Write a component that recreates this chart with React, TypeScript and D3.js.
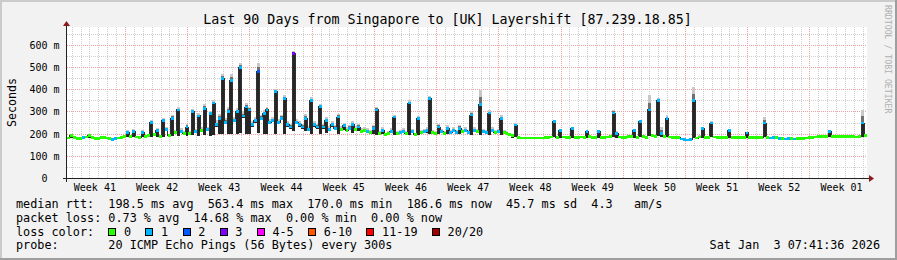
import React from "react";
import * as d3 from "d3";

// ---------- chart data ----------
const title = "Last 90 Days from Singapore to [UK] Layershift [87.239.18.85]";
const rangeStart = Date.UTC(2025, 9, 6, 11, 24);
const rangeEnd = Date.UTC(2026, 0, 4, 11, 24);
const sampleHours = 8;

const weekLabels = ["Week 41", "Week 42", "Week 43", "Week 44", "Week 45", "Week 46", "Week 47", "Week 48", "Week 49", "Week 50", "Week 51", "Week 52", "Week 01"];
const weekStarts = ["2025-10-06", "2025-10-13", "2025-10-20", "2025-10-27", "2025-11-03", "2025-11-10", "2025-11-17", "2025-11-24", "2025-12-01", "2025-12-08", "2025-12-15", "2025-12-22", "2025-12-29"];

const yMax = 681;
const yMajorTicks = [0, 100, 200, 300, 400, 500, 600];
const yMinorTicks = [50, 150, 250, 350, 450, 550, 650];
const yTickLabels = ["0  ", "100 m", "200 m", "300 m", "400 m", "500 m", "600 m"];

const lossBuckets = ["0", "1", "2", "3", "4-5", "6-10", "11-19", "20/20"];
const lossColors = ["#26ff00", "#00b8ff", "#0059ff", "#7e00ff", "#ff00ff", "#ff5500", "#ff0000", "#a10000"];

// median rtt in ms, one value every 8 hours
const median = [
  180, 190, 182, 178, 179, 181, 185, 193, 183, 179,
  178, 181, 183, 180, 177, 174, 178, 180, 183, 186,
  205, 188, 210, 185, 183, 207, 186, 190, 252, 195,
  215, 188, 261, 218, 190, 270, 205, 307, 210, 200,
  230, 200, 300, 210, 280, 215, 315, 220, 290, 338,
  240, 270, 450, 250, 300, 440, 260, 300, 497, 280,
  320, 307, 240, 260, 480, 270, 290, 307, 250, 260,
  389, 250, 270, 360, 240, 230, 563, 250, 240, 230,
  270, 220, 351, 240, 230, 321, 230, 260, 220, 240,
  225, 275, 220, 235, 215, 225, 240, 220, 230, 210,
  215, 210, 205, 225, 307, 200, 215, 195, 200, 210,
  275, 200, 205, 210, 200, 338, 210, 195, 270, 205,
  210, 215, 360, 205, 200, 230, 210, 200, 225, 205,
  215, 205, 225, 210, 215, 205, 284, 215, 210, 330,
  210, 205, 293, 215, 205, 210, 270, 205, 200, 195,
  190, 239, 182, 180, 180, 180, 180, 180, 180, 180,
  180, 182, 181, 185, 254, 183, 216, 185, 182, 184,
  225, 183, 181, 185, 182, 209, 186, 183, 182, 209,
  184, 182, 185, 186, 293, 200, 185, 182, 184, 186,
  186, 216, 184, 254, 186, 183, 307, 190, 188, 351,
  200, 186, 270, 185, 183, 182, 181, 176, 172, 171,
  173, 351, 180, 185, 225, 184, 183, 248, 185, 183,
  182, 181, 183, 216, 184, 182, 181, 183, 182, 203,
  183, 182, 181, 184, 183, 248, 182, 180, 181, 182,
  178, 177, 176, 178, 177, 176, 178, 177, 179, 180,
  181, 184, 185, 186, 186, 186, 187, 209, 186, 186,
  187, 186, 187, 188, 187, 186, 185, 186, 248, 190,
];

// lowest ping (smoke bottom), ms
const smokeLo = [
  178, 181, 180, 176, 177, 179, 180, 182, 181, 177,
  176, 179, 180, 178, 175, 172, 175, 178, 180, 182,
  184, 183, 185, 180, 179, 184, 181, 184, 186, 188,
  186, 182, 186, 210, 184, 188, 198, 190, 203, 193,
  188, 194, 192, 203, 190, 208, 192, 212, 190, 195,
  232, 200, 200, 242, 200, 200, 252, 200, 205, 270,
  200, 200, 232, 250, 205, 260, 200, 200, 242, 252,
  200, 242, 260, 200, 232, 222, 210, 242, 232, 222,
  210, 212, 200, 232, 222, 200, 222, 205, 212, 232,
  217, 200, 212, 215, 207, 217, 205, 212, 210, 203,
  207, 203, 198, 200, 195, 193, 200, 188, 193, 202,
  195, 193, 198, 203, 193, 195, 203, 188, 195, 198,
  203, 205, 198, 198, 193, 200, 203, 193, 200, 198,
  207, 198, 200, 203, 207, 198, 192, 207, 203, 195,
  203, 198, 192, 207, 198, 203, 195, 198, 193, 188,
  182, 186, 180, 178, 178, 178, 178, 178, 178, 178,
  178, 180, 179, 181, 184, 180, 182, 181, 180, 181,
  182, 181, 179, 181, 180, 182, 182, 181, 180, 182,
  181, 180, 182, 182, 186, 182, 182, 180, 181, 182,
  182, 182, 181, 184, 182, 180, 188, 183, 183, 190,
  184, 182, 185, 181, 180, 179, 178, 172, 169, 168,
  170, 182, 177, 181, 182, 181, 180, 183, 181, 180,
  179, 178, 180, 182, 181, 179, 178, 180, 179, 181,
  180, 179, 178, 181, 180, 184, 179, 177, 178, 179,
  175, 174, 173, 175, 174, 173, 175, 174, 176, 177,
  178, 181, 182, 183, 183, 183, 184, 184, 183, 183,
  184, 183, 184, 185, 184, 183, 182, 183, 186, 186,
];

// highest ping (smoke top), ms
const smokeHi = [
  183, 194, 185, 181, 182, 184, 188, 197, 186, 182,
  181, 184, 186, 183, 180, 177, 181, 183, 187, 192,
  215, 195, 220, 190, 188, 215, 192, 197, 262, 205,
  226, 196, 272, 230, 198, 285, 215, 318, 224, 210,
  245, 212, 312, 222, 292, 228, 332, 232, 304, 350,
  260, 290, 470, 270, 320, 470, 275, 315, 520, 300,
  340, 320, 255, 275, 520, 285, 305, 320, 265, 275,
  400, 265, 285, 375, 255, 245, 575, 265, 255, 245,
  290, 235, 365, 255, 245, 335, 245, 275, 235, 255,
  240, 290, 235, 250, 228, 240, 255, 235, 245, 225,
  230, 225, 218, 240, 321, 212, 230, 205, 212, 225,
  285, 212, 218, 225, 212, 351, 222, 205, 280, 218,
  222, 228, 370, 218, 212, 245, 222, 212, 238, 218,
  228, 218, 240, 222, 228, 218, 300, 228, 222, 397,
  222, 218, 305, 228, 218, 222, 282, 215, 210, 205,
  198, 248, 185, 182, 182, 182, 182, 182, 182, 182,
  183, 185, 184, 189, 262, 187, 222, 189, 186, 188,
  232, 187, 184, 189, 186, 215, 190, 187, 186, 215,
  188, 186, 189, 190, 307, 210, 189, 186, 188, 190,
  190, 222, 188, 262, 192, 187, 374, 200, 196, 362,
  230, 190, 282, 189, 187, 186, 185, 180, 177, 176,
  178, 411, 185, 195, 230, 188, 187, 258, 190, 187,
  186, 185, 187, 222, 188, 186, 185, 187, 186, 208,
  187, 186, 185, 188, 187, 277, 186, 184, 185, 186,
  182, 181, 180, 182, 181, 180, 182, 181, 183, 184,
  185, 188, 189, 190, 190, 190, 191, 214, 190, 190,
  191, 190, 191, 192, 191, 190, 189, 190, 307, 196,
];

// lost pings out of 20
const lossCount = [
  0, 0, 0, 0, 0, 1, 0, 0, 0, 0,
  0, 0, 0, 0, 0, 1, 1, 0, 0, 0,
  1, 0, 1, 0, 0, 1, 0, 0, 1, 0,
  1, 0, 1, 1, 0, 1, 0, 1, 1, 0,
  1, 0, 1, 1, 1, 0, 1, 1, 1, 1,
  1, 1, 1, 1, 1, 1, 1, 1, 1, 1,
  1, 1, 1, 1, 2, 1, 1, 1, 1, 1,
  1, 1, 1, 1, 1, 1, 3, 1, 1, 1,
  1, 1, 1, 1, 1, 1, 1, 1, 1, 1,
  1, 1, 0, 1, 0, 1, 1, 0, 1, 0,
  0, 1, 0, 1, 1, 0, 1, 0, 0, 1,
  1, 0, 1, 1, 0, 1, 1, 0, 1, 0,
  1, 1, 1, 0, 0, 1, 1, 0, 1, 1,
  1, 1, 1, 0, 1, 1, 1, 1, 0, 1,
  1, 1, 1, 1, 0, 1, 1, 0, 0, 0,
  0, 1, 0, 0, 0, 0, 0, 0, 0, 0,
  0, 0, 0, 0, 1, 0, 1, 0, 0, 0,
  1, 0, 0, 0, 0, 1, 0, 0, 0, 1,
  0, 0, 0, 0, 1, 1, 0, 0, 0, 0,
  0, 1, 0, 1, 0, 0, 1, 0, 0, 1,
  1, 0, 1, 0, 0, 0, 0, 1, 1, 1,
  1, 1, 0, 0, 1, 0, 0, 1, 0, 0,
  0, 0, 0, 1, 0, 0, 0, 0, 0, 1,
  0, 0, 0, 0, 0, 1, 0, 1, 1, 0,
  1, 0, 1, 1, 0, 1, 0, 0, 0, 0,
  0, 0, 0, 0, 0, 0, 0, 1, 0, 0,
  0, 0, 0, 0, 0, 0, 0, 0, 1, 0,
];

const legendMedian = "median rtt:  198.5 ms avg  563.4 ms max  170.0 ms min  186.6 ms now  45.7 ms sd  4.3   am/s";
const legendLoss = "packet loss: 0.73 % avg  14.68 % max  0.00 % min  0.00 % now";
const legendColorLabel = "loss color:";
const legendProbe = "probe:       20 ICMP Echo Pings (56 Bytes) every 300s";
const stampText = "Sat Jan  3 07:41:36 2026";
const yAxisTitle = "Seconds";
const watermark = "RRDTOOL / TOBI OETIKER";

// ---------- component ----------
const W = 897;
const H = 260;
const PL = 67, PR = 867, PT = 27, PB = 178;
const MONO = "'DejaVu Sans Mono', monospace";
const CHAR_W = 7.1;

function bucketOf(n: number): number {
  if (n <= 3) return n;
  if (n <= 5) return 4;
  if (n <= 10) return 5;
  if (n <= 19) return 6;
  return 7;
}

export default function App() {
  const x = d3.scaleUtc().domain([new Date(rangeStart), new Date(rangeEnd)]).range([PL, PR]);
  const y = d3.scaleLinear().domain([0, yMax]).range([PB, PT]);
  const tAt = (i: number) => new Date(rangeStart + i * sampleHours * 3600 * 1000);

  const days = d3.utcDay.range(new Date(rangeStart), new Date(rangeEnd));
  const weeks = d3.utcMonday.range(new Date(rangeStart), new Date(rangeEnd));

  const medLine = d3
    .line<number>()
    .x((_, i) => x(tAt(i)))
    .y((d) => y(d))
    .curve(d3.curveStepAfter)([...median, median[median.length - 1]]);

  // legend box positions: fixed entry overhead plus label width
  const boxXs: number[] = [];
  let bx = 108.3;
  lossBuckets.forEach((b) => {
    boxXs.push(bx);
    bx += 30.0 + b.length * CHAR_W;
  });

  return (
    <div style={{ position: "absolute", left: 0, top: 0 }}>
      <svg width={W} height={H} style={{ display: "block" }} fontFamily={MONO}>
        <rect x={0} y={0} width={W} height={H} fill="#f2f2f2" />
        {/* 3D frame */}
        <rect x={0} y={0} width={W} height={2} fill="#cbcbcb" />
        <rect x={0} y={0} width={2} height={H} fill="#cbcbcb" />
        <rect x={0} y={H - 2} width={W} height={2} fill="#9e9e9e" />
        <rect x={W - 2} y={0} width={2} height={H} fill="#9e9e9e" />

        {/* canvas */}
        <rect x={PL} y={PT} width={PR - PL} height={PB - PT} fill="#ffffff" />

        {/* minor grid */}
        <g stroke="#cfcfcf" strokeWidth={1} strokeDasharray="1,1" shapeRendering="crispEdges">
          {days.map((d, i) => (
            <line key={"vd" + i} x1={Math.round(x(d)) + 0.5} x2={Math.round(x(d)) + 0.5} y1={PT} y2={PB} />
          ))}
          {yMinorTicks.map((v) => (
            <line key={"hm" + v} x1={PL} x2={PR} y1={Math.round(y(v)) + 0.5} y2={Math.round(y(v)) + 0.5} />
          ))}
        </g>
        {/* major grid */}
        <g stroke="#efa0a0" strokeWidth={1} strokeDasharray="1,1" shapeRendering="crispEdges">
          {weeks.map((d, i) => (
            <line key={"vw" + i} x1={Math.round(x(d)) + 0.5} x2={Math.round(x(d)) + 0.5} y1={PT} y2={PB} />
          ))}
          {yMajorTicks.filter((v) => v > 0).map((v) => (
            <line key={"hM" + v} x1={PL} x2={PR} y1={Math.round(y(v)) + 0.5} y2={Math.round(y(v)) + 0.5} />
          ))}
        </g>

        {/* smoke */}
        <g shapeRendering="crispEdges">
          {median.map((m, i) => {
            const x0 = x(tAt(i));
            const x1 = x(tAt(i + 1));
            const lo = smokeLo[i];
            const hi = smokeHi[i];
            const mid = m + (hi - m) * 0.5;
            return (
              <g key={"s" + i}>
                <rect x={x0} width={x1 - x0} y={y(hi)} height={Math.max(0, y(mid) - y(hi))} fill="#c8c8c8" />
                <rect x={x0} width={x1 - x0} y={y(mid)} height={Math.max(0, y(m) - y(mid))} fill="#707070" />
                <rect x={x0} width={x1 - x0} y={y(m)} height={Math.max(0, y(lo) - y(m))} fill="#262626" />
              </g>
            );
          })}
        </g>
        <path d={medLine || ""} fill="none" stroke="#303030" strokeWidth={1} shapeRendering="crispEdges" />

        {/* median marks colored by loss */}
        <g shapeRendering="crispEdges">
          {median.map((m, i) => {
            const x0 = x(tAt(i));
            const x1 = x(tAt(i + 1));
            return (
              <rect key={"m" + i} x={x0} width={x1 - x0} y={y(m) - 1.4} height={2.8} fill={lossColors[bucketOf(lossCount[i])]} />
            );
          })}
        </g>

        {/* axes */}
        <g shapeRendering="crispEdges">
          <line x1={PL - 4} x2={PR + 2} y1={PB + 0.5} y2={PB + 0.5} stroke="#222" />
          <line x1={PL - 0.5} x2={PL - 0.5} y1={PB + 4} y2={PT - 2} stroke="#222" />
        </g>
        <path d={`M${PR + 2},${PB - 3} L${PR + 7},${PB + 0.5} L${PR + 2},${PB + 4} Z`} fill="#8b1a1a" />
        <path d={`M${PL - 4},${PT - 1} L${PL - 0.5},${PT - 6} L${PL + 3},${PT - 1} Z`} fill="#8b1a1a" />

        {/* y tick labels */}
        {yMajorTicks.map((v, i) => (
          <text key={"yl" + v} x={59.5} y={y(v) + 4} fontSize={10} textAnchor="end" fill="#000" xmlSpace="preserve" style={{ whiteSpace: "pre" }}>
            {yTickLabels[i]}
          </text>
        ))}

        {/* week labels */}
        {weekLabels.map((lab, i) => {
          const t = new Date(new Date(weekStarts[i] + "T00:00:00Z").getTime() + 3.5 * 86400000);
          return (
            <text key={lab} x={x(t) + 1} y={190.5} fontSize={10} textAnchor="middle" fill="#000">
              {lab}
            </text>
          );
        })}

        {/* title */}
        <text x={447.5} y={23.5} fontSize={13.3} textAnchor="middle" fill="#000">
          {title}
        </text>

        {/* y axis title */}
        <text transform="translate(15.5,102.5) rotate(-90)" fontSize={11.6} textAnchor="middle" fill="#000">
          {yAxisTitle}
        </text>

        {/* watermark */}
        <text transform="translate(885,5) rotate(90)" fontSize={8.2} fill="#b0b0b0">
          {watermark}
        </text>

        {/* legend */}
        <g fontSize={11.8} fill="#000" style={{ whiteSpace: "pre" }}>
          <text x={16} y={208} xmlSpace="preserve">{legendMedian}</text>
          <text x={16} y={221.8} xmlSpace="preserve">{legendLoss}</text>
          <text x={16} y={235.6} xmlSpace="preserve">{legendColorLabel}</text>
          {lossBuckets.map((b, i) => (
            <g key={"lb" + b}>
              <rect x={Math.round(boxXs[i]) + 0.5} y={228.5} width={7} height={7} fill={lossColors[i]} stroke="#000" strokeWidth={1} shapeRendering="crispEdges" />
              <text x={boxXs[i] + 15.7} y={235.6}>{b}</text>
            </g>
          ))}
          <text x={16} y={249.4} xmlSpace="preserve">{legendProbe}</text>
          <text x={880} y={249.4} textAnchor="end" xmlSpace="preserve">{stampText}</text>
        </g>
      </svg>
    </div>
  );
}
